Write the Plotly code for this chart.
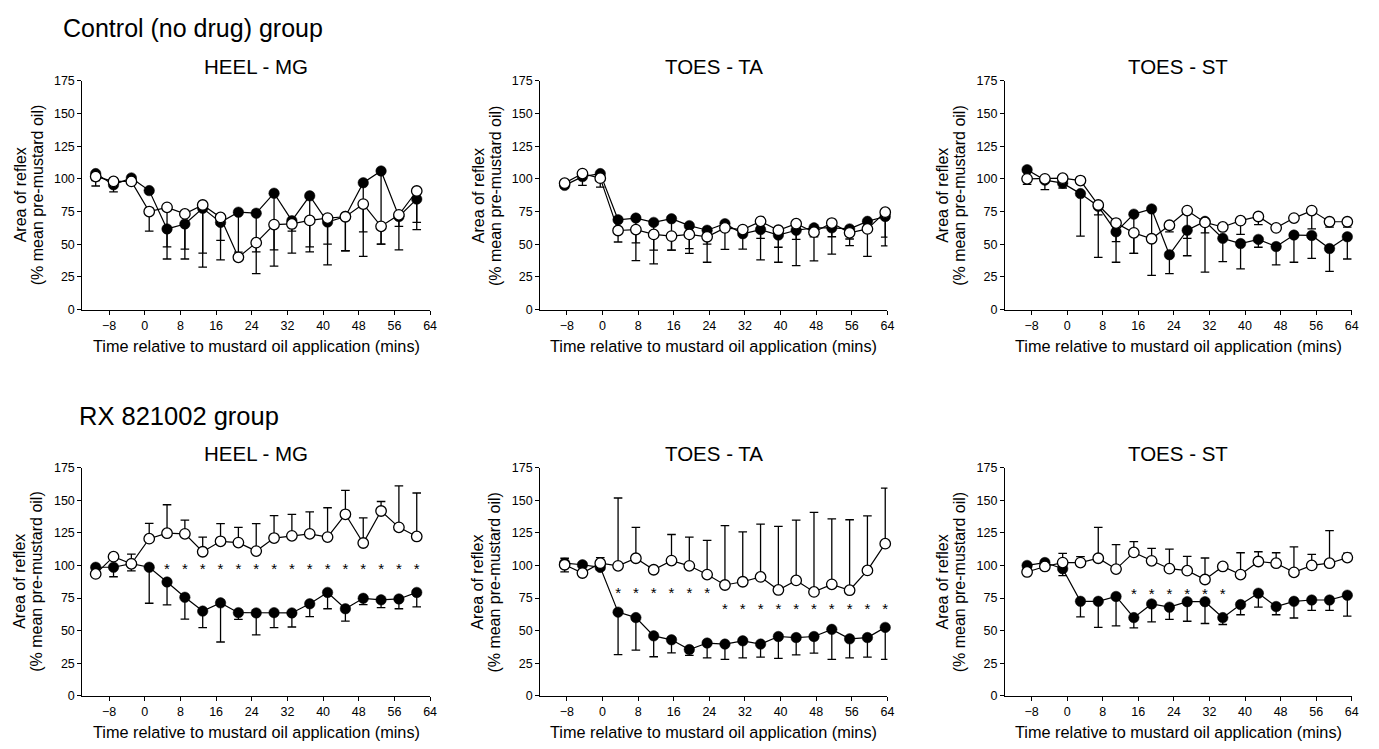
import plotly.graph_objects as go

W, H = 1379, 749
OFF = 8  # default body margin of the html page
FONT = "Liberation Sans, Arial, sans-serif"

# ---------------- data ----------------
group_titles = ["Control (no drug) group", "RX 821002 group"]
panel_titles = ["HEEL - MG", "TOES - TA", "TOES - ST"]
x_title = "Time relative to mustard oil application (mins)"
y_title_1 = "Area of reflex"
y_title_2 = "(% mean pre-mustard oil)"
x_ticks = [-8, 0, 8, 16, 24, 32, 40, 48, 56, 64]
y_ticks = [0, 25, 50, 75, 100, 125, 150, 175]

# time points (min) for each muscle
x_heel = [-11, -7, -3, 1, 5, 9, 13, 17, 21, 25, 29, 33, 37, 41, 45, 49, 53, 57, 61]
x_ta = [-8.5, -4.5, -0.5, 3.5, 7.5, 11.5, 15.5, 19.5, 23.5, 27.5, 31.5, 35.5, 39.5, 43.5, 47.5, 51.5, 55.5, 59.5, 63.5]
x_st = [-9, -5, -1, 3, 7, 11, 15, 19, 23, 27, 31, 35, 39, 43, 47, 51, 55, 59, 63]

# Control group
ctl_mg_filled = [104, 95.5, 100.7, 91, 61.7, 65.5, 77.5, 66.7, 74.5, 73.7, 89, 68, 87, 67, 71.2, 97, 106, 71.2, 84.5]
ctl_mg_filled_err = [9.5, 5.5, 2, 0, 13.7, 19.3, 34.3, 13.7, 30.5, 29.5, 43.3, 8, 42.8, 32.8, 26.2, 56.3, 56, 25.5, 23.3]
ctl_mg_open = [101.7, 98, 98, 75, 78.2, 73.2, 80, 70.5, 40, 51.2, 65, 65.5, 68.2, 70, 71, 80.7, 63.7, 72.5, 90.7]
ctl_mg_open_err = [3, 0, 2, 15, 39.5, 34.5, 47.5, 32.5, 0, 23.7, 31.8, 22.3, 20.2, 20, 26, 21.2, 13.7, 8.8, 24]

ctl_ta_filled = [95, 101.7, 104, 68.7, 70, 66.7, 69.5, 64.2, 60.7, 65.7, 58, 61.2, 57, 60.7, 62.5, 62.5, 61.7, 67.5, 71.2]
ctl_ta_filled_err = [2, 6.7, 0, 17, 19, 21.2, 24, 17.5, 10.7, 19.7, 11.8, 6.7, 9.3, 7, 6.8, 6.8, 12.7, 26.8, 22.5]
ctl_ta_open = [96.7, 104, 100.5, 60.5, 61.2, 57.5, 56.2, 57.5, 55.7, 62.5, 61.2, 67.5, 60.7, 65.7, 59.2, 66.2, 58.7, 61.7, 74.5]
ctl_ta_open_err = [2, 0, 6.8, 0, 23.7, 22.5, 10.7, 14.5, 19.5, 0, 0, 29.5, 24.5, 32, 22, 23.7, 4.7, 0, 19]

ctl_st_filled = [107, 99, 96.7, 88.7, 79, 59.5, 73, 77, 42, 60.7, 67.5, 54.5, 50.5, 53.7, 48.2, 57, 56.7, 46.7, 55.7]
ctl_st_filled_err = [0, 7.3, 3.7, 32.5, 6.5, 23.3, 30, 50.8, 14.5, 19.5, 38.8, 17.8, 19.3, 6, 14, 20.8, 17.5, 17.5, 17]
ctl_st_open = [100, 100, 100.5, 98.7, 80, 66.2, 58.7, 54.2, 64.5, 75.7, 66.7, 63.2, 68, 71.2, 62.5, 70, 75.7, 67.2, 67.2]
ctl_st_open_err = [4.3, 0, 0, 0, 40, 14.2, 15.7, 0, 5, 21.2, 8, 0, 10.5, 6.2, 0, 0, 14, 4.2, 4.2]

# RX 821002 group
rx_mg_filled = [98.6, 98.6, 101.4, 98.6, 87.3, 75.6, 65, 71.3, 63.8, 63.6, 63.8, 63.6, 70.6, 79.3, 66.8, 74.8, 73.6, 74.3, 79.3]
rx_mg_filled_err = [0, 7.3, 5.6, 27.6, 17.5, 16.8, 12.7, 30, 5.2, 16.8, 11.5, 10.8, 9.8, 12.5, 9.5, 4.8, 6, 7.5, 11]
rx_mg_open = [93.5, 106.7, 101.2, 120.5, 124.7, 124.2, 110.5, 118.5, 117.5, 111, 121, 122.7, 124.2, 121.7, 139.2, 117.2, 141.7, 129.2, 122.2]
rx_mg_open_err = [0, 0, 7.5, 11.7, 21.8, 10.5, 11.2, 13.5, 11.7, 21, 17.2, 16.5, 16.8, 22.5, 18.3, 19.3, 7.3, 31.8, 33.3]
rx_mg_stars = [None, None, None, None, 96, 96, 96, 96, 96, 96, 96, 96, 96, 96, 96, 96, 96, 96, 96]

rx_ta_filled = [101.7, 100.5, 98.5, 64.2, 60, 46, 43, 35.5, 40.5, 39.7, 42.2, 39.7, 45.5, 44.7, 45.5, 51, 43.7, 44.7, 52.5]
rx_ta_filled_err = [6.7, 0, 0, 32.5, 25, 16, 10, 4.5, 11.3, 11.7, 13, 10, 16.8, 13.2, 12.8, 23, 14.5, 15, 24.5]
rx_ta_open = [100.5, 94.2, 101.7, 99.7, 105.5, 96.7, 103.7, 99.7, 93, 85, 87.5, 91.2, 81.2, 88.5, 79.7, 85.5, 81, 96.2, 116.7]
rx_ta_open_err = [5, 0, 4.3, 52, 23.7, 0, 20, 22, 26.2, 45.5, 38.2, 40.5, 48.8, 46.2, 61, 50.2, 54, 41.8, 42.5]
rx_ta_stars = [None, None, None, 78, 78, 78, 78, 78, 78, 66, 66, 66, 66, 66, 66, 66, 66, 66, 66]

rx_st_filled = [100, 102.2, 97.5, 72.5, 72.5, 76.2, 60, 70.5, 68, 72.2, 72.2, 60, 70, 78.7, 68.5, 72.5, 73.5, 73.5, 77.2]
rx_st_filled_err = [0, 0, 5.3, 12, 20, 22.5, 7.8, 13.8, 9.3, 15, 16.7, 5.3, 7.8, 10.7, 6.3, 12.8, 8, 8, 16]
rx_st_open = [95, 99.2, 102.2, 102.2, 105.5, 97.2, 110, 103.5, 97.5, 96, 89.2, 99.2, 93, 103, 101.7, 94.7, 100, 101.7, 106]
rx_st_open_err = [0, 0, 7, 4.5, 23.7, 18.8, 8.2, 9.5, 15, 11, 16.5, 0, 16.7, 7.5, 8, 19.5, 8.5, 25, 3.5]
rx_st_stars = [None, None, None, None, None, None, 77, 77, 77, 77, 77, 77, None, None, None, None, None, None, None]

panels = [
    # (x, filled, filled_err, open, open_err, open_err_up, stars)
    (x_heel, ctl_mg_filled, ctl_mg_filled_err, ctl_mg_open, ctl_mg_open_err, False, None),
    (x_ta, ctl_ta_filled, ctl_ta_filled_err, ctl_ta_open, ctl_ta_open_err, False, None),
    (x_st, ctl_st_filled, ctl_st_filled_err, ctl_st_open, ctl_st_open_err, False, None),
    (x_heel, rx_mg_filled, rx_mg_filled_err, rx_mg_open, rx_mg_open_err, True, rx_mg_stars),
    (x_ta, rx_ta_filled, rx_ta_filled_err, rx_ta_open, rx_ta_open_err, True, rx_ta_stars),
    (x_st, rx_st_filled, rx_st_filled_err, rx_st_open, rx_st_open_err, True, rx_st_stars),
]

# ---------------- layout geometry (window pixels) ----------------
col_px = [(82.7, 432.3), (542.9, 892.0), (1010.0, 1358.7)]
row_px = [(75.0, 308.3), (469.3, 702.0)]
FW, FH = W - 2 * OFF, H - OFF


def px_x(v):
    return (v - OFF) / FW


def px_y(v):
    return 1 - (v - OFF) / FH


fig = go.Figure()
layout = dict(
    width=FW, height=FH,
    margin=dict(l=0, r=0, t=0, b=0),
    paper_bgcolor="white", plot_bgcolor="white",
    font=dict(family=FONT, color="black"),
    showlegend=False,
)
annotations = []

for k, (xs, fv, fe, ov, oe, up, stars) in enumerate(panels):
    r, c = divmod(k, 3)
    n = k + 1
    xa = "x" if n == 1 else f"x{n}"
    ya = "y" if n == 1 else f"y{n}"
    x0, x1 = col_px[c]
    y0, y1 = row_px[r]
    zeros = [0] * len(xs)

    fig.add_trace(go.Scatter(
        x=xs, y=fv, xaxis=xa, yaxis=ya, mode="lines+markers",
        line=dict(color="black", width=1.2),
        marker=dict(size=10.5, color="black", line=dict(color="black", width=0.5)),
        error_y=dict(type="data", symmetric=False, array=zeros, arrayminus=fe,
                     color="black", thickness=1.3, width=4.3),
        cliponaxis=False,
    ))
    fig.add_trace(go.Scatter(
        x=xs, y=ov, xaxis=xa, yaxis=ya, mode="lines+markers",
        line=dict(color="black", width=1.2),
        marker=dict(size=10.5, color="white", line=dict(color="black", width=1.3)),
        error_y=dict(type="data", symmetric=False,
                     array=oe if up else zeros, arrayminus=zeros if up else oe,
                     color="black", thickness=1.3, width=4.3),
        cliponaxis=False,
    ))
    if stars is not None:
        sx = [x for x, s in zip(xs, stars) if s is not None]
        sy = [s for s in stars if s is not None]
        fig.add_trace(go.Scatter(
            x=sx, y=sy, xaxis=xa, yaxis=ya, mode="text", text=["*"] * len(sx),
            textposition="middle center",
            textfont=dict(size=15, color="black", family=FONT),
            cliponaxis=False, hoverinfo="skip",
        ))

    axis_common = dict(
        showline=True, linecolor="black", linewidth=1,
        ticks="outside", ticklen=4, tickwidth=1, tickcolor="black",
        showgrid=False, zeroline=False,
        tickfont=dict(size=12.5, family=FONT, color="black"),
    )
    layout["xaxis" if n == 1 else f"xaxis{n}"] = dict(
        axis_common, domain=[px_x(x0), px_x(x1)], anchor=ya,
        range=[-14, 64], tickvals=x_ticks,
    )
    layout["yaxis" if n == 1 else f"yaxis{n}"] = dict(
        axis_common, domain=[px_y(y1), px_y(y0)], anchor=xa,
        range=[0, 175], tickvals=y_ticks,
    )

    # panel title
    annotations.append(dict(
        text=panel_titles[c], xref="paper", yref="paper",
        x=px_x((x0 + x1) / 2), y=px_y(y0 - 14),
        xanchor="center", yanchor="middle", showarrow=False,
        font=dict(size=20.5, family=FONT, color="black"),
    ))
    # x-axis title
    annotations.append(dict(
        text=x_title, xref="paper", yref="paper",
        x=px_x((x0 + x1) / 2), y=px_y(y1 + 37),
        xanchor="center", yanchor="middle", showarrow=False,
        font=dict(size=16.3, family=FONT, color="black"),
    ))
    # y-axis title (two lines)
    for txt, off in ((y_title_1, 62.5), (y_title_2, 45.5)):
        annotations.append(dict(
            text=txt, xref="paper", yref="paper", textangle=-90,
            x=px_x(x0 - off), y=px_y((y0 + y1) / 2),
            xanchor="center", yanchor="middle", showarrow=False,
            font=dict(size=16, family=FONT, color="black"),
        ))

# group titles
annotations.append(dict(
    text=group_titles[0], xref="paper", yref="paper",
    x=px_x(61), y=px_y(21.5), xanchor="left", yanchor="middle", showarrow=False,
    font=dict(size=25, family=FONT, color="black"),
))
annotations.append(dict(
    text=group_titles[1], xref="paper", yref="paper",
    x=px_x(77), y=px_y(416.5), xanchor="left", yanchor="middle", showarrow=False,
    font=dict(size=25.5, family=FONT, color="black"),
))

layout["annotations"] = annotations
fig.update_layout(**layout)
fig.write_html("out.html")
